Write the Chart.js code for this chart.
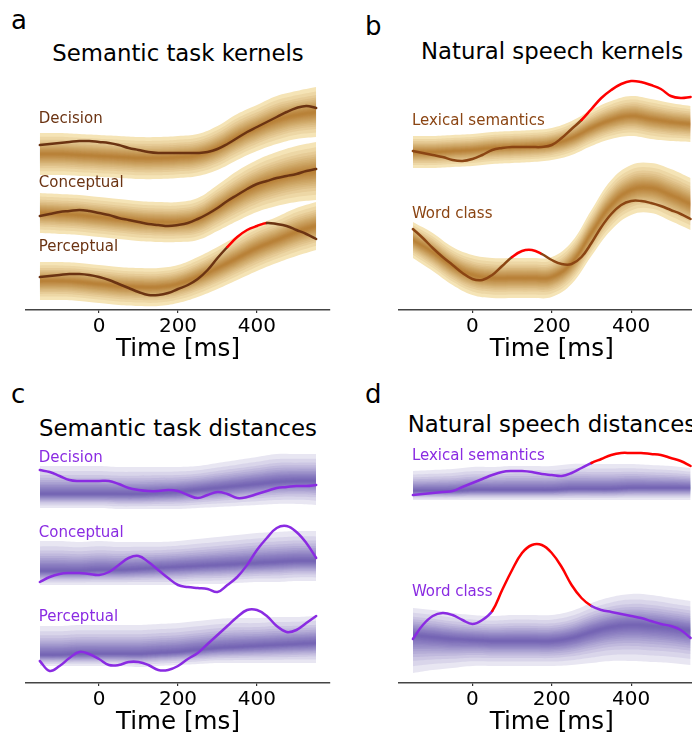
<!DOCTYPE html>
<html>
<head>
<meta charset="utf-8">
<script src="https://cdn.jsdelivr.net/npm/chart.js@4.4.1/dist/chart.umd.min.js"></script>
<style>
html, body { margin: 0; padding: 0; background: #fff; }
body { position: relative; width: 692px; height: 736px; overflow: hidden; font-family: "DejaVu Sans", sans-serif; }
canvas { position: absolute; }
.letter { position: absolute; font-size: 26px; line-height: 1; color: #000; }
.title { position: absolute; font-size: 22.8px; line-height: 1; color: #000; white-space: nowrap; transform: translateX(-50%); }
</style>
</head>
<body>
<div class="letter" style="left:11px;top:7px">a</div>
<div class="letter" style="left:365px;top:13px">b</div>
<div class="letter" style="left:11px;top:381px">c</div>
<div class="letter" style="left:365px;top:381px">d</div>
<div class="title" style="left:178px;top:42px">Semantic task kernels</div>
<div class="title" style="left:552px;top:40px">Natural speech kernels</div>
<div class="title" style="left:178px;top:417px">Semantic task distances</div>
<div class="title" style="left:552px;top:413px">Natural speech distances</div>

<canvas id="chartA" width="346" height="368" style="left:0;top:0"></canvas>
<canvas id="chartB" width="380" height="368" style="left:346px;top:0"></canvas>
<canvas id="chartC" width="346" height="368" style="left:0;top:373px"></canvas>
<canvas id="chartD" width="380" height="368" style="left:346px;top:373px"></canvas>

<script>
// time axes (ms)
const bandTimes = [-150, -100, -50, 0, 50, 100, 150, 200, 250, 300, 350, 400, 450, 500, 550];
const lineTimes = [-150, -125, -100, -75, -50, -25, 0, 25, 50, 75, 100, 125, 150, 175, 200, 225,
                   250, 275, 300, 325, 350, 375, 400, 425, 450, 475, 500, 525, 550];
const xTicks = [0, 200, 400];

// a: semantic task kernels (offset units, stacked)
const aDecisionMid = [156, 156, 155, 154, 153, 152, 152, 153, 155, 162, 173, 182, 190, 195, 198];
const aDecisionSpread = [21, 21, 21, 21, 21, 21, 21, 21, 21, 22, 23, 23, 24, 24, 25];
const aConceptualMid = [97, 96, 95, 93, 91, 89, 88, 88, 91, 102, 114, 124, 131, 136, 139];
const aConceptualSpread = [20, 20, 20, 20, 20, 20, 20, 20, 21, 23, 25, 26, 27, 28, 29];
const aPerceptualMid = [29, 29, 28, 26, 24, 23, 23, 26, 33, 42, 52, 62, 70, 78, 84];
const aPerceptualSpread = [19, 19, 19, 19, 19, 19, 19, 19, 20, 21, 22, 23, 23, 24, 24];
const aDecisionLine = [165, 166, 167, 168, 169, 169, 168, 167, 165, 162, 160, 158, 157, 157, 157, 157,
                       157, 158, 161, 166, 172, 178, 183, 188, 193, 198, 202, 204, 202];
const aConceptualLine = [94, 96, 98, 99, 100, 99, 97, 95, 92, 90, 88, 86, 85, 84, 85, 87,
                         91, 96, 102, 109, 115, 121, 126, 129, 132, 134, 136, 139, 141];
const aPerceptualLine = [33, 34, 35, 36, 36, 35, 33, 30, 26, 22, 18, 15, 15, 17, 21, 25,
                         31, 40, 52, 63, 73, 80, 84, 87, 86, 84, 80, 76, 71];

// b: natural speech kernels
const bLexicalMid = [158, 158, 159, 160, 162, 163, 164, 166, 172, 182, 190, 194, 191, 188, 186];
const bLexicalSpread = [16, 16, 16, 16, 16, 16, 16, 16, 17, 18, 19, 20, 20, 19, 18];
const bWordMid = [70, 58, 44, 35, 32, 32, 32, 33, 47, 77, 105, 120, 122, 115, 106];
const bWordSpread = [18, 19, 19, 20, 20, 20, 20, 20, 21, 23, 25, 25, 25, 26, 26];
const bLexicalLine = [159, 157, 155, 153, 150, 149, 151, 155, 160, 162, 163, 163, 163, 163, 165, 172,
                      181, 190, 201, 212, 220, 226, 229, 228, 225, 221, 214, 212, 213];
const bWordLine = [81, 72, 62, 53, 45, 37, 31, 30, 35, 44, 53, 59, 60, 56, 50, 46,
                   46, 53, 67, 83, 96, 105, 109, 109, 107, 104, 100, 96, 91];

// c: semantic task distances
const cDecisionMid = [189, 189, 189, 189, 189, 189, 190, 191, 193, 195, 197, 199, 201, 202, 202];
const cDecisionUp = [28, 28, 28, 28, 27, 27, 26, 25, 24, 25, 26, 27, 28, 27, 27];
const cDecisionDown = [14, 14, 14, 14, 15, 15, 16, 17, 18, 19, 20, 21, 22, 23, 24];
const cConceptualMid = [112, 112, 112, 113, 113, 114, 115, 116, 117, 118, 119, 120, 121, 122, 122];
const cConceptualUp = [30, 30, 29, 29, 28, 27, 26, 26, 27, 28, 29, 30, 30, 30, 30];
const cConceptualDown = [14, 14, 14, 15, 15, 16, 17, 18, 18, 19, 19, 19, 20, 20, 20];
const cPerceptualMid = [28, 28, 29, 29, 29, 29, 30, 31, 33, 35, 36, 37, 38, 39, 40];
const cPerceptualUp = [29, 29, 29, 29, 29, 29, 29, 29, 29, 29, 29, 28, 28, 27, 27];
const cPerceptualDown = [11, 11, 12, 12, 12, 13, 13, 13, 14, 15, 16, 17, 18, 19, 20];
const cDecisionLine = [213, 211, 207, 203, 202, 202, 202, 202, 199, 195, 193, 192, 192, 193, 192, 188,
                       185, 188, 191, 189, 185, 186, 189, 192, 195, 196, 197, 197, 198];
const cConceptualLine = [101, 106, 109, 110, 110, 109, 108, 111, 118, 125, 127, 121, 113, 105, 98, 96,
                         95, 94, 91, 98, 106, 118, 133, 145, 155, 157, 151, 140, 125];
const cPerceptualLine = [22, 12, 17, 25, 31, 29, 24, 18, 18, 21, 21, 18, 13, 13, 17, 24,
                         30, 39, 48, 57, 66, 73, 73, 67, 57, 51, 53, 60, 67];

// d: natural speech distances
const dLexicalMid = [192, 192, 192, 193, 193, 193, 193, 193, 194, 194, 194, 195, 195, 195, 195];
const dLexicalUp = [20, 21, 22, 23, 23, 24, 24, 24, 25, 25, 25, 24, 23, 22, 20];
const dLexicalDown = [9, 9, 9, 10, 10, 10, 10, 10, 11, 11, 11, 12, 12, 12, 12];
const dWordMid = [48, 46, 44, 43, 42, 42, 42, 42, 45, 51, 56, 58, 57, 55, 52];
const dWordUp = [27, 27, 26, 25, 25, 26, 26, 26, 27, 29, 30, 31, 31, 30, 30];
const dWordDown = [38, 33, 29, 26, 25, 25, 25, 25, 27, 31, 34, 36, 36, 35, 34];
const dLexicalLine = [188, 189, 190, 191, 192, 196, 200, 204, 208, 211, 212, 212, 211, 209, 208, 207,
                      210, 215, 220, 224, 228, 230, 230, 230, 229, 228, 225, 222, 217];
const dWordLine = [44, 58, 67, 70, 68, 63, 59, 63, 72, 93, 113, 130, 138, 138, 130, 116,
                   98, 85, 77, 73, 71, 69, 67, 65, 62, 59, 57, 53, 45];

// significant windows (ms), drawn red
const aPerceptualSig = [325, 425];
const bLexicalSig = [275, 550];
const bWordSig = [100, 175];
const dLexicalSig = [300, 550];
const dWordSig = [50, 300];

const layerFractions = [1.0, 0.82, 0.68, 0.58, 0.5, 0.43, 0.37, 0.32, 0.27, 0.23, 0.19, 0.15, 0.12, 0.09, 0.06, 0.03];
const FONT = "'DejaVu Sans', sans-serif";

function bandDatasets(mid, up, down, baseColor, shadeColor) {
    const sets = [];
    layerFractions.forEach((f, j) => {
        sets.push({
            data: bandTimes.map((t, i) => ({ x: t, y: mid[i] - f * down[i] })),
            borderWidth: 0, pointRadius: 0, fill: false, tension: 0.4, order: 100 - j
        });
        sets.push({
            data: bandTimes.map((t, i) => ({ x: t, y: mid[i] + f * up[i] })),
            borderWidth: 0, pointRadius: 0, fill: '-1', tension: 0.4,
            backgroundColor: j === 0 ? baseColor : shadeColor,
            order: 100 - j
        });
    });
    return sets;
}

function lineDataset(values, color, sig) {
    return {
        data: lineTimes.map((t, i) => ({ x: t, y: values[i] })),
        borderColor: color, borderWidth: 2.5, pointRadius: 0, fill: false,
        tension: 0.4, order: 0, borderCapStyle: 'round', borderJoinStyle: 'round',
        segment: {
            borderColor: ctx => (sig && ctx.p0.parsed.x >= sig[0] && ctx.p1.parsed.x <= sig[1]) ? '#ff0000' : color
        }
    };
}

function makePanel(id, padLeft, padRight, series, colors) {
    let datasets = [];
    series.forEach(s => {
        datasets = datasets.concat(bandDatasets(s.mid, s.up, s.down, colors.base, colors.shade));
    });
    series.forEach(s => datasets.push(lineDataset(s.line, colors.line, s.sig)));

    const labelPlugin = {
        id: 'seriesLabels',
        afterDatasetsDraw(chart) {
            const c = chart.ctx;
            c.save();
            c.font = '15px ' + FONT;
            c.fillStyle = colors.label;
            c.textAlign = 'left';
            c.textBaseline = 'middle';
            series.forEach(s => {
                c.fillText(s.name, chart.scales.x.getPixelForValue(-150) - 1, chart.scales.y.getPixelForValue(s.labelY));
            });
            c.restore();
        }
    };

    return new Chart(document.getElementById(id), {
        type: 'line',
        data: { datasets },
        plugins: [labelPlugin],
        options: {
            responsive: false,
            animation: false,
            layout: { padding: { left: padLeft, right: padRight, top: 70, bottom: 0 } },
            plugins: { legend: { display: false }, tooltip: { enabled: false } },
            scales: {
                x: {
                    type: 'linear', min: -185, max: 585,
                    afterBuildTicks: scale => { scale.ticks = xTicks.map(v => ({ value: v })); },
                    afterFit: scale => { scale.height = 58; },
                    grid: { display: true, drawOnChartArea: false, drawTicks: true, tickLength: 3, color: '#333', lineWidth: 1.2 },
                    border: { display: true, color: '#444', width: 1.6 },
                    ticks: { color: '#000', padding: 2, maxRotation: 0, font: { size: 20, family: FONT } },
                    title: { display: true, text: 'Time [ms]', color: '#000', padding: { top: 0, bottom: 4 }, font: { size: 24.6, family: FONT } }
                },
                y: { display: false, min: 0, max: 240 }
            }
        }
    });
}

const kernelColors = { base: 'rgb(245,228,182)', shade: 'rgba(178,110,34,0.115)' };
const distColors = { base: 'rgb(232,230,242)', shade: 'rgba(96,78,170,0.105)' };

makePanel('chartA', 26, 16, [
    { name: 'Decision', labelY: 191, mid: aDecisionMid, up: aDecisionSpread, down: aDecisionSpread, line: aDecisionLine, sig: null },
    { name: 'Conceptual', labelY: 127, mid: aConceptualMid, up: aConceptualSpread, down: aConceptualSpread, line: aConceptualLine, sig: null },
    { name: 'Perceptual', labelY: 63, mid: aPerceptualMid, up: aPerceptualSpread, down: aPerceptualSpread, line: aPerceptualLine, sig: aPerceptualSig }
], Object.assign({ line: '#6b3312', label: '#6b3312' }, kernelColors));

makePanel('chartB', 53, 21.5, [
    { name: 'Lexical semantics', labelY: 189, mid: bLexicalMid, up: bLexicalSpread, down: bLexicalSpread, line: bLexicalLine, sig: bLexicalSig },
    { name: 'Word class', labelY: 96, mid: bWordMid, up: bWordSpread, down: bWordSpread, line: bWordLine, sig: bWordSig }
], Object.assign({ line: '#8b4513', label: '#8b4513' }, kernelColors));

makePanel('chartC', 26, 16, [
    { name: 'Decision', labelY: 225, mid: cDecisionMid, up: cDecisionUp, down: cDecisionDown, line: cDecisionLine, sig: null },
    { name: 'Conceptual', labelY: 150, mid: cConceptualMid, up: cConceptualUp, down: cConceptualDown, line: cConceptualLine, sig: null },
    { name: 'Perceptual', labelY: 66, mid: cPerceptualMid, up: cPerceptualUp, down: cPerceptualDown, line: cPerceptualLine, sig: null }
], Object.assign({ line: '#8a2be2', label: '#8a2be2' }, distColors));

makePanel('chartD', 53, 21.5, [
    { name: 'Lexical semantics', labelY: 227, mid: dLexicalMid, up: dLexicalUp, down: dLexicalDown, line: dLexicalLine, sig: dLexicalSig },
    { name: 'Word class', labelY: 91, mid: dWordMid, up: dWordUp, down: dWordDown, line: dWordLine, sig: dWordSig }
], Object.assign({ line: '#8a2be2', label: '#8a2be2' }, distColors));
</script>
</body>
</html>
